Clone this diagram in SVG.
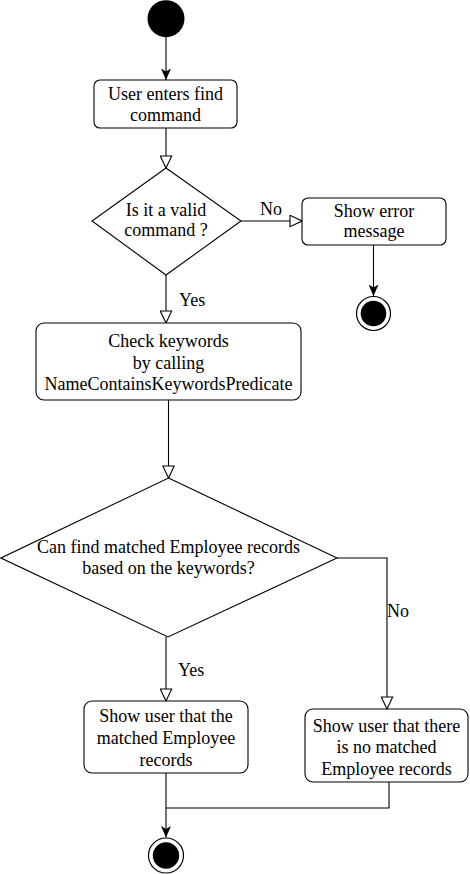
<svg xmlns="http://www.w3.org/2000/svg" width="470" height="874" viewBox="0 0 470 874" font-family="Liberation Serif, Times New Roman, DejaVu Serif, serif">
<style>
.node{fill:#fff;stroke:#000;stroke-width:1.1}
text{font-family:'Liberation Serif','Times New Roman','DejaVu Serif',serif;font-size:18px;fill:#000}
.t{text-anchor:middle}
.edge{fill:none;stroke:#000;stroke-width:1.1}
.open{marker-end:url(#hollow)}
.fill{marker-end:url(#solid)}
</style>
<defs>
<marker id="hollow" viewBox="0 0 14 13" refX="13" refY="6.5" markerWidth="14" markerHeight="13" markerUnits="userSpaceOnUse" orient="auto">
<path d="M1,0.8 L13,6.5 L1,12.2 Z" fill="#fff" stroke="#000" stroke-width="1.1"/>
</marker>
<marker id="solid" viewBox="0 0 12 10" refX="11.5" refY="5" markerWidth="12" markerHeight="10" markerUnits="userSpaceOnUse" orient="auto">
<path d="M0,0 L11.5,5 L0,10 L3,5 Z" fill="#000"/>
</marker>
</defs>
<g id="connectors">
<line class="edge fill" x1="166" y1="37" x2="166" y2="80"/>
<line class="edge open" x1="166" y1="128" x2="166" y2="168"/>
<line class="edge open" x1="241" y1="221" x2="302" y2="221"/>
<line class="edge fill" x1="373.5" y1="245" x2="373.5" y2="296"/>
<line class="edge open" x1="166" y1="275" x2="166" y2="323"/>
<line class="edge open" x1="168.5" y1="400" x2="168.5" y2="478"/>
<polyline class="edge open" points="337,558 387,558 387,709"/>
<line class="edge open" x1="166" y1="637" x2="166" y2="701"/>
<line class="edge fill" x1="166" y1="773" x2="166" y2="837.5"/>
<polyline class="edge" points="389,782 389,808 166,808"/>
<text x="260" y="215">No</text>
<text x="179" y="306">Yes</text>
<text x="387" y="617">No</text>
<text x="178" y="676">Yes</text>
</g>
<g id="start">
<circle cx="166" cy="18.7" r="18.5" fill="#000"/>
</g>
<g id="userEnters">
<rect class="node" x="94" y="80" width="143" height="48" rx="6"/>
<text class="t" x="165.5" y="100">User enters find</text>
<text class="t" x="165.5" y="121">command</text>
</g>
<g id="validDecision">
<polygon class="node" points="166,168 241,221 166,275 92,221"/>
<text class="t" x="166" y="215.5">Is it a valid</text>
<text class="t" x="166" y="236">command ?</text>
</g>
<g id="showError">
<rect class="node" x="302" y="198" width="144" height="47" rx="6"/>
<text class="t" x="374" y="216.5">Show error</text>
<text class="t" x="374" y="237">message</text>
</g>
<g id="end1">
<circle cx="373.5" cy="313.5" r="17" fill="#fff" stroke="#000" stroke-width="1.2"/>
<circle cx="373.5" cy="313.5" r="12.8" fill="#000"/>
</g>
<g id="checkKeywords">
<rect class="node" x="36" y="323" width="265" height="77" rx="8"/>
<text class="t" x="168.5" y="347">Check keywords</text>
<text class="t" x="168.5" y="368.5">by calling</text>
<text class="t" x="168.5" y="390">NameContainsKeywordsPredicate</text>
</g>
<g id="matchDecision">
<polygon class="node" points="168.5,478 337,558 168,637 1,558"/>
<text class="t" x="168.5" y="552.5">Can find matched Employee records</text>
<text class="t" x="168.5" y="574">based on the keywords?</text>
</g>
<g id="showMatched">
<rect class="node" x="84" y="701" width="164" height="72" rx="8"/>
<text class="t" x="166" y="722">Show user that the</text>
<text class="t" x="166" y="744">matched Employee</text>
<text class="t" x="166" y="766">records</text>
</g>
<g id="showNoMatch">
<rect class="node" x="305" y="709" width="163" height="73" rx="8"/>
<text class="t" x="386.5" y="731.5">Show user that there</text>
<text class="t" x="386.5" y="753">is no matched</text>
<text class="t" x="386.5" y="774.5">Employee records</text>
</g>
<g id="end2">
<circle cx="166" cy="855.5" r="17.5" fill="#fff" stroke="#000" stroke-width="1.2"/>
<circle cx="166" cy="855.5" r="13.2" fill="#000"/>
</g>
</svg>
